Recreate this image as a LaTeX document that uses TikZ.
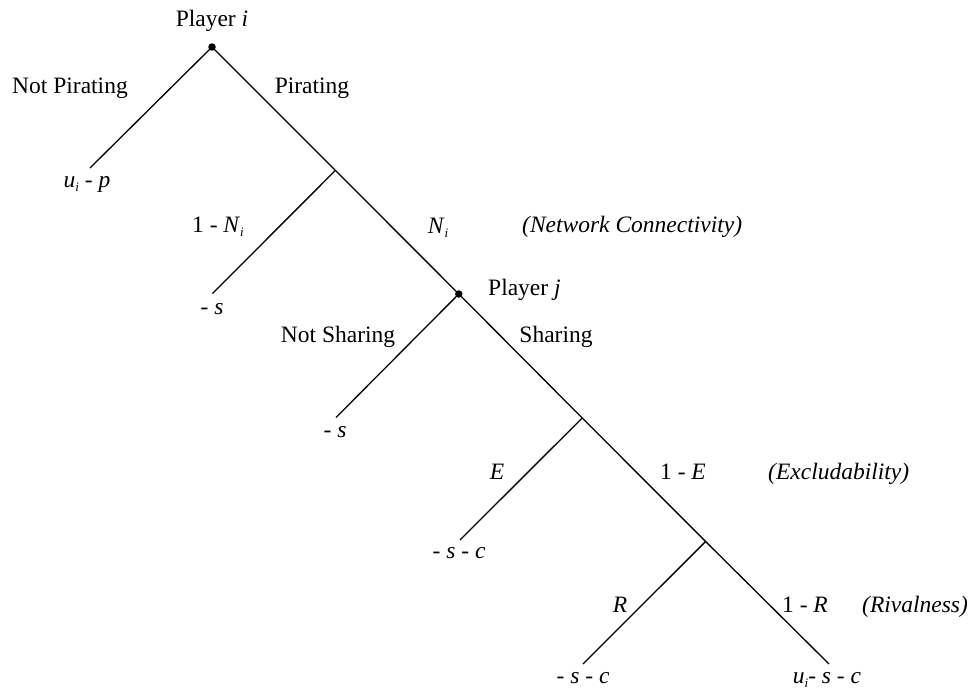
\documentclass[tikz,border=0pt]{standalone}
\usepackage{fontspec}
\setmainfont{Liberation Serif}
\newcommand\subi{\raisebox{-0.45ex}{\fontsize{13}{13}\selectfont\textit{i}}}
\begin{document}
\begin{tikzpicture}[x=1pt,y=-1pt,
  branch/.style={line width=1.3pt},
  lab/.style={anchor=base, inner sep=0pt, font=\fontsize{23.5}{28}\selectfont},
  labw/.style={lab, anchor=base west},
  dot/.style={circle, fill=black, inner sep=0pt, minimum size=7.5pt}]
\useasboundingbox (0,0) rectangle (974,696);
% decision / chance nodes
\coordinate (root) at (212,47);
\coordinate (c1) at (335.4,170.4);
\coordinate (pj) at (458.8,294);
\coordinate (c2) at (582.2,418);
\coordinate (c3) at (705.6,541.5);
\coordinate (e6) at (829,664);
% leaves
\coordinate (e1) at (90,168);
\coordinate (e2) at (212.5,293.5);
\coordinate (e3) at (336,417.5);
\coordinate (e4) at (460,540);
\coordinate (e5) at (583,664);
% branches
\draw[branch] (root) -- (c1) -- (pj) -- (c2) -- (c3) -- (e6);
\draw[branch] (root) -- (e1);
\draw[branch] (c1) -- (e2);
\draw[branch] (pj) -- (e3);
\draw[branch] (c2) -- (e4);
\draw[branch] (c3) -- (e5);
\node[dot] (droot) at (root) {};
\node[dot] (dpj) at (pj) {};
% labels
\node[lab] (tpi) at (212,26) {Player \textit{i}};
\node[lab] (tnp) at (70,93) {Not Pirating};
\node[lab] (tp) at (312,93) {Pirating};
\node[lab] (tl1) at (87,187) {\textit{u}\subi{} - \textit{p}};
\node[lab] (tn1) at (218,232) {1 - \textit{N}\subi};
\node[lab] (tn) at (438,233) {\textit{N}\subi};
\node[labw] (tnc) at (522,232) {\textit{(Network Connectivity)}};
\node[labw] (tpj) at (488,295) {Player \textit{j}};
\node[lab] (tl2) at (212,314) {- \textit{s}};
\node[lab] (tns) at (338,342) {Not Sharing};
\node[lab] (ts) at (556,342) {Sharing};
\node[lab] (tl3) at (335,437) {- \textit{s}};
\node[lab] (te) at (497,479) {\textit{E}};
\node[lab] (te1) at (683,479) {1 - \textit{E}};
\node[labw] (tex) at (768,479) {\textit{(Excludability)}};
\node[lab] (tl4) at (459,558) {- \textit{s} - \textit{c}};
\node[lab] (tr) at (620,612) {\textit{R}};
\node[lab] (tr1) at (805,612) {1 - \textit{R}};
\node[labw] (trv) at (862,612) {\textit{(Rivalness)}};
\node[lab] (tl5) at (583,683) {- \textit{s} - \textit{c}};
\node[lab] (tl6) at (827,683) {\textit{u}\subi- \textit{s} - \textit{c}};
\end{tikzpicture}
\end{document}
